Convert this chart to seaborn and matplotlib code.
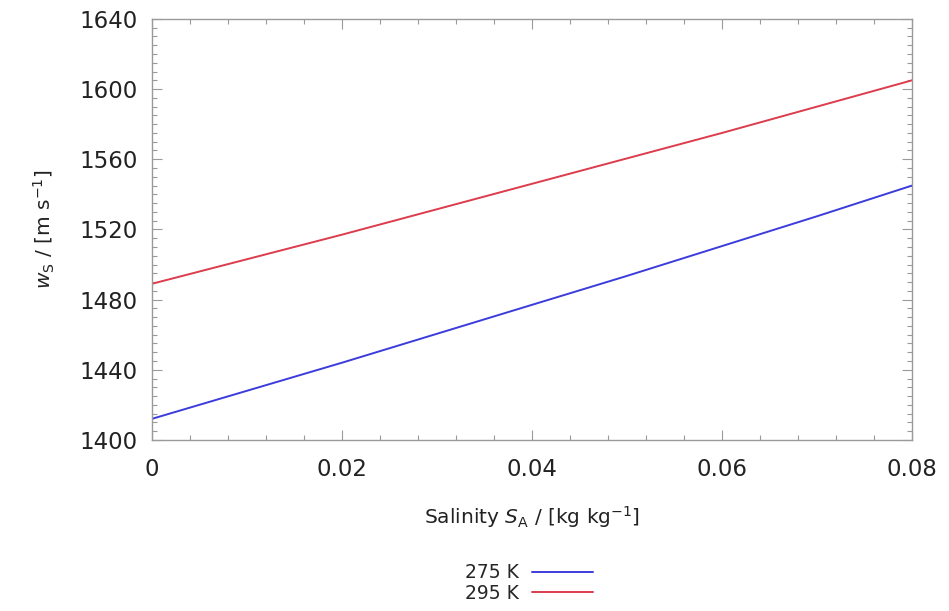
import matplotlib
matplotlib.use("Agg")
import matplotlib.pyplot as plt
import seaborn as sns
import pandas as pd
from matplotlib.ticker import MultipleLocator, FuncFormatter

# Data
salinity = [0.0, 0.01, 0.02, 0.03, 0.04, 0.05, 0.06, 0.07, 0.08]
ws_275K = [1412, 1428, 1444, 1460.5, 1477, 1493.5, 1510.5, 1527.5, 1545]
ws_295K = [1489, 1503, 1517, 1531.5, 1546, 1560.5, 1575, 1590, 1605]
series_labels = ["275 K", "295 K"]
x_ticks = [0, 0.02, 0.04, 0.06, 0.08]
y_ticks = [1400, 1440, 1480, 1520, 1560, 1600, 1640]

df = pd.DataFrame({
    "S": salinity * 2,
    "w": ws_275K + ws_295K,
    "T": [series_labels[0]] * len(salinity) + [series_labels[1]] * len(salinity),
})

sns.set_style("white")
plt.rcParams["font.family"] = ["DejaVu Sans"]
plt.rcParams["mathtext.fontset"] = "dejavusans"

fig = plt.figure(figsize=(9.49, 6.11), dpi=100)
ax = fig.add_axes([0.160, 0.280, 0.801, 0.689])

palette = {series_labels[0]: "#3c3cdc", series_labels[1]: "#dc3c4c"}
sns.lineplot(data=df, x="S", y="w", hue="T", palette=palette, linewidth=1.4,
             ax=ax, legend=True)

ax.set_xlim(x_ticks[0], x_ticks[-1])
ax.set_ylim(y_ticks[0], y_ticks[-1])
ax.set_xticks(x_ticks)
ax.set_yticks(y_ticks)
ax.xaxis.set_minor_locator(MultipleLocator(0.004))
ax.yaxis.set_minor_locator(MultipleLocator(5))
ax.xaxis.set_major_formatter(FuncFormatter(lambda v, p: "%g" % v))

border = "#9a9a9a"
for s in ax.spines.values():
    s.set_visible(True)
    s.set_color(border)
    s.set_linewidth(1.0)

ax.tick_params(which="both", direction="in", top=True, right=True,
               bottom=True, left=True, color=border, width=0.8)
ax.tick_params(which="major", length=7)
ax.tick_params(which="minor", length=3.5)
ax.tick_params(axis="both", which="major", labelsize=16.5, labelcolor="#222222")
ax.tick_params(axis="x", pad=13)
ax.tick_params(axis="y", pad=10)

ax.set_xlabel(r"Salinity $S_\mathrm{A}$ / [kg kg$^{-1}$]", fontsize=14.5,
              color="#222222", labelpad=17)
ax.set_ylabel(r"$w_\mathrm{S}$ / [m s$^{-1}$]", fontsize=14.5,
              color="#222222", labelpad=16)

handles, labels = ax.get_legend_handles_labels()
ax.legend(handles, labels, loc="center", bbox_to_anchor=(0.557, 0.046),
          bbox_transform=fig.transFigure, frameon=False, markerfirst=False,
          fontsize=13.5, handlelength=3.25, handletextpad=0.7,
          labelspacing=0.08, borderpad=0)

fig.savefig("out.png", dpi=100)
